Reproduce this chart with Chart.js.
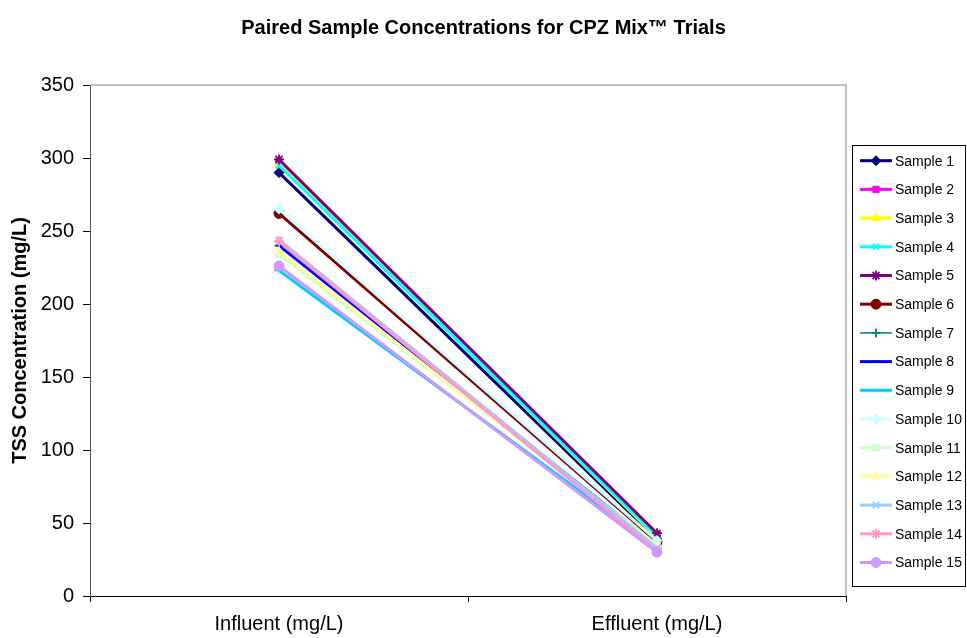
<!DOCTYPE html>
<html>
<head>
<meta charset="utf-8">
<script src="https://cdn.jsdelivr.net/npm/chart.js@4.4.1/dist/chart.umd.min.js"></script>
<style>
    html, body { margin: 0; padding: 0; background: #fff; }
</style>
</head>
<body>
<canvas id="tssChart" width="967" height="638"></canvas>
<script>
// data
const categories = ["Influent (mg/L)", "Effluent (mg/L)"];
const sampleNames = ["Sample 1", "Sample 2", "Sample 3", "Sample 4", "Sample 5",
    "Sample 6", "Sample 7", "Sample 8", "Sample 9", "Sample 10",
    "Sample 11", "Sample 12", "Sample 13", "Sample 14", "Sample 15"];
const influent = [290, 297, 296, 295, 299, 262, 240, 240, 223, 265, 234, 236, 244, 243, 226];
const effluent = [39, 42, 40, 41, 43, 37, 35, 34, 33, 38, 35, 34, 33, 31, 30];
const yTicks = [0, 50, 100, 150, 200, 250, 300, 350];

// excel default series look
const colors = ["#000080", "#FF00FF", "#FFFF00", "#00FFFF", "#800080", "#800000", "#008080",
    "#0000FF", "#00CCFF", "#CCFFFF", "#CCFFCC", "#FFFF99", "#99CCFF", "#FF99CC", "#CC99FF"];
const markers = ["rectRot", "rect", "triangle", "crossRot", "star", "circle", "cross",
    "line", "line", "rectRot", "rect", "triangle", "crossRot", "star", "circle"];
const markerSize = [5, 4.5, 5, 4.5, 5, 5, 4.5, 3, 5, 5, 4.5, 5, 4.5, 5, 5];

const datasets = sampleNames.map((name, i) => ({
    label: name,
    data: [influent[i], effluent[i]],
    borderColor: colors[i],
    backgroundColor: colors[i],
    borderWidth: i === 6 ? 1.5 : 3,
    pointStyle: markers[i],
    pointRadius: markerSize[i],
    pointHoverRadius: markerSize[i],
    pointBackgroundColor: colors[i],
    pointBorderColor: colors[i],
    pointBorderWidth: ["crossRot", "star", "cross", "line"].includes(markers[i]) ? 1.8 : 1,
    order: sampleNames.length - i // later samples on top, like excel
}));

const plotDecor = {
    id: 'plotDecor',
    beforeDatasetsDraw(chart) {
        const { ctx, chartArea } = chart;
        ctx.save();
        ctx.strokeStyle = '#c0c0c0';
        ctx.lineWidth = 2;
        ctx.beginPath();
        ctx.moveTo(chartArea.left, chartArea.top);
        ctx.lineTo(chartArea.right, chartArea.top);
        ctx.lineTo(chartArea.right, chartArea.bottom);
        ctx.stroke();
        ctx.restore();
    },
    afterDraw(chart) {
        const ctx = chart.ctx;
        ctx.save();

        // title, centred on whole canvas
        ctx.font = 'bold 20px Arial';
        ctx.fillStyle = '#000';
        ctx.textAlign = 'center';
        ctx.textBaseline = 'middle';
        ctx.fillText('Paired Sample Concentrations for CPZ Mix\u2122 Trials', chart.width / 2, 28);

        // legend box
        ctx.strokeStyle = '#000';
        ctx.lineWidth = 1;
        ctx.strokeRect(852.5, 145.5, 113, 441);

        ctx.font = '14px Arial';
        ctx.textAlign = 'left';
        chart.data.datasets.forEach((ds, i) => {
            const y = 160.7 + i * 28.7;
            ctx.strokeStyle = ds.borderColor;
            ctx.fillStyle = ds.borderColor;
            ctx.lineWidth = ds.borderWidth;
            ctx.beginPath();
            ctx.moveTo(860, y);
            ctx.lineTo(892, y);
            ctx.stroke();
            ctx.lineWidth = ds.pointBorderWidth;
            Chart.helpers.drawPoint(ctx, {
                pointStyle: ds.pointStyle,
                radius: ds.pointRadius,
                rotation: 0,
                borderWidth: ds.pointBorderWidth
            }, 876, y);
            ctx.fillStyle = '#000';
            ctx.fillText(ds.label, 895, y + 1);
        });
        ctx.restore();
    }
};

new Chart(document.getElementById('tssChart'), {
    type: 'line',
    data: {
        labels: categories,
        datasets: datasets
    },
    options: {
        responsive: false,
        animation: false,
        layout: {
            padding: { top: 85, right: 121, bottom: 0, left: 0 }
        },
        plugins: {
            legend: { display: false },
            title: { display: false },
            tooltip: { enabled: false }
        },
        elements: {
            line: { tension: 0 }
        },
        scales: {
            x: {
                type: 'category',
                offset: true,
                grid: {
                    offset: true,
                    drawOnChartArea: false,
                    tickLength: 6,
                    color: '#000'
                },
                border: { color: '#000', width: 1 },
                ticks: {
                    color: '#000',
                    font: { family: 'Arial', size: 20 },
                    padding: 10
                },
                afterFit(scale) { scale.height = 42; }
            },
            y: {
                min: 0,
                max: 350,
                afterBuildTicks(scale) {
                    scale.ticks = yTicks.map(v => ({ value: v }));
                },
                grid: {
                    drawOnChartArea: false,
                    tickLength: 7,
                    color: '#000'
                },
                border: { color: '#555', width: 1 },
                ticks: {
                    color: '#000',
                    font: { family: 'Arial', size: 20 },
                    padding: 9
                },
                title: {
                    display: true,
                    text: 'TSS Concentration (mg/L)',
                    color: '#000',
                    font: { family: 'Arial', size: 20, weight: 'bold' },
                    padding: { top: 8, bottom: 0 }
                },
                afterFit(scale) { scale.width = 90; }
            }
        }
    },
    plugins: [plotDecor]
});
</script>
</body>
</html>
